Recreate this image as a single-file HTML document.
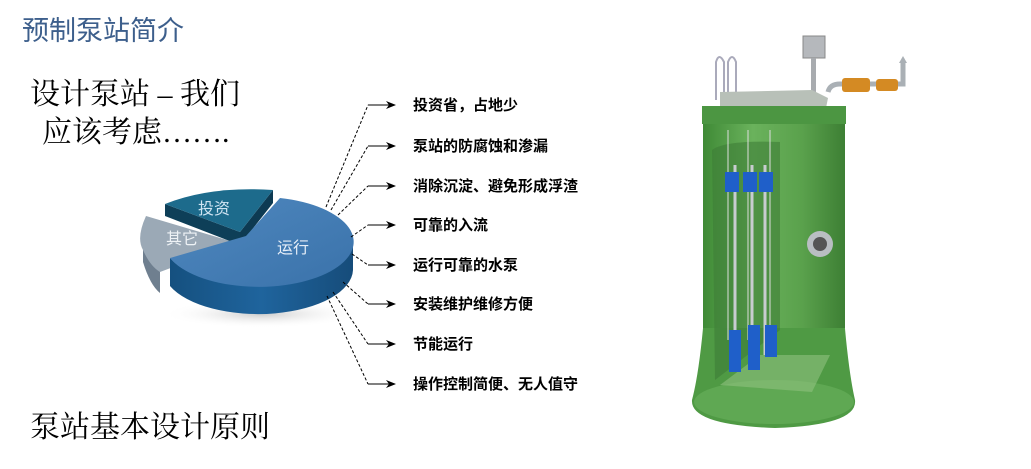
<!DOCTYPE html>
<html><head><meta charset="utf-8"><style>
html,body{margin:0;padding:0;background:#fff;}
svg{display:block;}
.cn{font-family:"Liberation Serif","Noto Serif CJK SC","Noto Sans CJK SC",serif;}
.cs{font-family:"Liberation Sans","Noto Sans CJK SC",sans-serif;}
</style></head><body>
<svg width="1031" height="469" viewBox="0 0 1031 469" xmlns="http://www.w3.org/2000/svg">
<defs>
<linearGradient id="side" x1="0" x2="1" y1="0" y2="0">
<stop offset="0" stop-color="#15507f"/><stop offset="0.5" stop-color="#1f649d"/><stop offset="1" stop-color="#164c7a"/></linearGradient>
<linearGradient id="top" x1="0" x2="1" y1="0" y2="1">
<stop offset="0" stop-color="#4f88bf"/><stop offset="1" stop-color="#3a72aa"/></linearGradient>
<linearGradient id="tank" x1="0" x2="1">
<stop offset="0" stop-color="#3f8a36"/><stop offset="0.35" stop-color="#6ab25c"/><stop offset="0.7" stop-color="#5aa14c"/><stop offset="1" stop-color="#3d7f34"/></linearGradient>
<radialGradient id="shadow" cx="0.5" cy="0.5" r="0.5"><stop offset="0" stop-color="#ccc"/><stop offset="1" stop-color="#fff" stop-opacity="0"/></radialGradient>
<marker id="ar" markerWidth="10" markerHeight="8" refX="9" refY="4" orient="auto" markerUnits="userSpaceOnUse"><path d="M0,0 L10,4 L0,8 L3,4 Z" fill="#000"/></marker>
</defs>

<text x="22" y="40" class="cs" font-size="27" fill="#3d5f8c">预制泵站简介</text>
<text x="30" y="104" class="cn" font-size="30" fill="#000">设计泵站 – 我们</text>
<text x="42" y="142" class="cn" font-size="30" fill="#000">应该考虑…….</text>
<text x="30" y="437" class="cn" font-size="30" fill="#000">泵站基本设计原则</text>

<!-- pie -->
<ellipse cx="262" cy="314" rx="100" ry="14" fill="url(#shadow)"/>
<path d="M143,237 L143,262 Q150,285 160,293 L160,270 Z" fill="#6f7f8f"/>
<path d="M237,243 L146,216 Q136,238 143,250 Q150,266 160,272 Z" fill="#9ba9b6"/>
<path d="M165,204 L240,232 L240,245 L165,216 Z" fill="#0e3f58"/>
<path d="M240,232 L273,190 L273,203 L240,245 Z" fill="#0d3a52"/>
<path d="M240,232 L165,204 Q210,186 273,190 Z" fill="#1d6b8c"/>
<path d="M170,258 L170,286 A95 45 0 0 0 353,270 L353,242 A95 45 0 0 1 170,258 Z" fill="url(#side)"/>
<path d="M246,236 L280,198 A95 45 0 1 1 170,258 Z" fill="url(#top)"/>
<text x="198" y="214" class="cs" font-size="16" fill="#cfe4f2">投资</text>
<text x="166" y="244" class="cs" font-size="16" fill="#eef2f5">其它</text>
<text x="277" y="253" class="cs" font-size="16" fill="#e6eef8">运行</text>

<g stroke="#000" stroke-width="1" fill="none">
<g stroke-dasharray="3,2">
<path d="M326,207 L368,105"/>
<path d="M331,210 L368,146"/>
<path d="M338,215 L368,186"/>
<path d="M351,237 L368,225"/>
<path d="M352,254 L368,265"/>
<path d="M343,282 L368,304"/>
<path d="M333,292 L368,344"/>
<path d="M327,296 L368,384"/>
</g>
<path d="M368,105 H395" marker-end="url(#ar)"/>
<path d="M368,146 H395" marker-end="url(#ar)"/>
<path d="M368,186 H395" marker-end="url(#ar)"/>
<path d="M368,225 H395" marker-end="url(#ar)"/>
<path d="M368,265 H395" marker-end="url(#ar)"/>
<path d="M368,304 H395" marker-end="url(#ar)"/>
<path d="M368,344 H395" marker-end="url(#ar)"/>
<path d="M368,384 H395" marker-end="url(#ar)"/>
</g>
<g class="cs" font-size="15" fill="#000" font-weight="bold">
<text x="413" y="110">投资省，占地少</text>
<text x="413" y="151">泵站的防腐蚀和渗漏</text>
<text x="413" y="191">消除沉淀、避免形成浮渣</text>
<text x="413" y="230">可靠的入流</text>
<text x="413" y="270">运行可靠的水泵</text>
<text x="413" y="309">安装维护维修方便</text>
<text x="413" y="349">节能运行</text>
<text x="413" y="389">操作控制简便、无人值守</text>
</g>

<g>
<path d="M716,100 V62 Q719,52 724,62 V100 M728,100 V62 Q732,52 736,62 V100" stroke="#aab" stroke-width="2" fill="none"/>
<rect x="803" y="36" width="22" height="22" fill="#b5b8bc" stroke="#888"/>
<rect x="811" y="58" width="5" height="38" fill="#a8abaf"/>
<path d="M828,92 Q830,84 840,84 H903 V62" stroke="#aab0b5" stroke-width="5" fill="none"/>
<path d="M899,63 L903,56 L907,63 Z" fill="#aab0b5"/>
<rect x="842" y="78" width="28" height="14" rx="3" fill="#d48a23"/>
<rect x="876" y="79" width="22" height="12" rx="3" fill="#d48a23"/>
<path d="M720,92 L812,90 L828,98 L826,108 L720,108 Z" fill="#b8c0b8"/>
<path d="M705,305 Q700,370 692,400 Q690,425 775,428 Q858,425 855,400 Q848,370 843,305 Z" fill="#4f9a44"/>
<ellipse cx="774" cy="402" rx="80" ry="22" fill="#5fa853"/>
<rect x="703" y="118" width="142" height="210" fill="url(#tank)"/>
<rect x="702" y="106" width="144" height="18" fill="#4c9642"/>
<path d="M712,150 Q725,140 780,142 L780,330 L715,380 Z" fill="#3e7d37" opacity="0.6"/>
<path d="M720,385 L760,355 L830,355 L812,392 Z" fill="#8fc27f" opacity="0.6"/>
<g stroke="#c8ccd0" stroke-width="3">
<line x1="735" y1="165" x2="735" y2="365"/>
<line x1="752" y1="165" x2="752" y2="355"/>
<line x1="765" y1="165" x2="765" y2="355"/>
</g>
<g stroke="#ddd" stroke-width="1">
<line x1="728" y1="130" x2="728" y2="340"/>
<line x1="748" y1="130" x2="748" y2="340"/>
<line x1="770" y1="130" x2="770" y2="340"/>
</g>
<g fill="#1f5fc9">
<rect x="725" y="172" width="14" height="20"/><rect x="743" y="172" width="14" height="20"/><rect x="759" y="172" width="14" height="20"/>
<rect x="729" y="330" width="12" height="42"/><rect x="748" y="325" width="12" height="45"/><rect x="765" y="325" width="12" height="32"/>
</g>
<circle cx="820" cy="244" r="13" fill="#b9bec2"/>
<circle cx="820" cy="244" r="7" fill="#555"/>
</g>
</svg>
</body></html>
